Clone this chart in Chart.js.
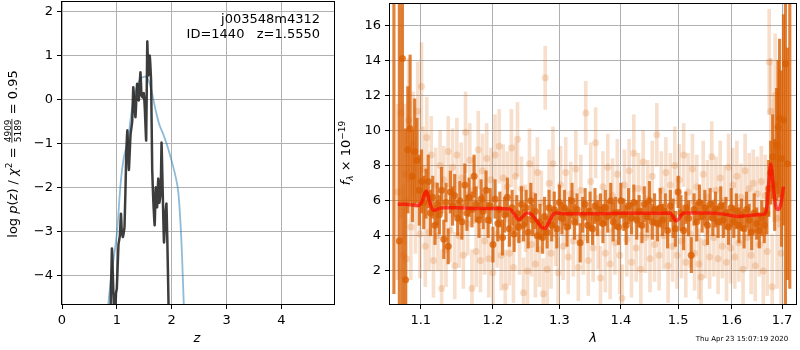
<!DOCTYPE html>
<html>
<head>
<meta charset="utf-8">
<script src="https://cdn.jsdelivr.net/npm/chart.js@4"></script>
<style>
  html, body { margin: 0; padding: 0; background: #fff; }
  #wrap { position: relative; width: 800px; height: 350px; }
  canvas { position: absolute; left: 0; top: 0; }
</style>
</head>
<body>
<div id="wrap">
  <canvas id="pz" width="800" height="350"></canvas>
  <canvas id="spec" width="800" height="350"></canvas>
</div>
<script>
// ---- left panel: log p(z) ----
const zDark = [0.875, 0.91, 0.935, 0.96, 0.985, 1.00, 1.03, 1.055, 1.075, 1.09,
  1.11, 1.14, 1.17, 1.19, 1.21, 1.22, 1.25, 1.28, 1.30, 1.32,
  1.34, 1.37, 1.40, 1.43, 1.45, 1.47, 1.49, 1.51, 1.535, 1.555,
  1.575, 1.60, 1.625, 1.645, 1.665, 1.69, 1.71, 1.735, 1.755, 1.775,
  1.80, 1.815, 1.835, 1.86, 1.885, 1.905, 1.93, 1.955];
const logpDark = [-5.5, -3.39, -4.3, -5.2, -4.4, -4.3, -3.3, -3.1, -2.6, -3.0,
  -3.13, -2.9, -1.35, -0.7, -1.3, -1.6, -0.8, -0.5, 0.28, -0.1,
  -0.4, 0.36, -0.02, 0.62, 0.1, 0.05, 0.15, -0.2, -0.93, 1.32,
  0.55, 1.0, 0.4, -1.6, -2.3, -2.86, -2.0, -2.45, -1.8, -2.35,
  -2.1, -0.98, -2.0, -3.25, -2.6, -2.37, -3.8, -5.5];
const zBlue = [0.80, 0.90, 1.00, 1.07, 1.13, 1.20, 1.25, 1.30, 1.35, 1.42,
  1.50, 1.55, 1.60, 1.65, 1.70, 1.77, 1.85, 1.92, 2.00, 2.08,
  2.12, 2.16, 2.19, 2.23];
const logpBlue = [-5.2, -4.0, -3.05, -1.9, -1.3, -0.95, -0.45, -0.05, 0.22, 0.45,
  0.52, 0.5, 0.36, 0.1, -0.2, -0.55, -0.8, -1.05, -1.4, -1.8,
  -2.1, -2.8, -3.6, -5.0];
const zTicks = [0, 1, 2, 3, 4];
const logpTicks = [-4, -3, -2, -1, 0, 1, 2];

// ---- right panel: spectrum ----
const lamRaw = [1.070,1.074,1.077,1.079,1.081,1.084,1.087,1.090,1.093,1.096,
  1.099,1.101,1.103,1.106,1.108,1.111,1.114,1.117,1.120,1.123,
  1.126,1.128,1.131,1.134,1.137,1.140,1.143,1.146,1.149,1.152,
  1.155,1.158,1.161,1.164,1.167,1.170,1.173,1.176,1.179,1.182,
  1.185,1.188,1.191,1.194,1.197,1.200,1.203,1.206,1.209,1.212,
  1.215,1.218,1.221,1.224,1.227,1.230,1.233,1.236,1.239,1.242,
  1.245,1.248,1.251,1.254,1.257,1.260,1.263,1.266,1.269,1.272,
  1.275,1.278,1.281,1.284,1.287,1.290,1.294,1.298,1.302,1.306,
  1.310,1.314,1.318,1.322,1.326,1.330,1.334,1.338,1.342,1.346,
  1.350,1.354,1.358,1.362,1.366,1.370,1.374,1.378,1.382,1.386,
  1.390,1.394,1.398,1.402,1.406,1.410,1.414,1.418,1.422,1.426,
  1.430,1.434,1.438,1.442,1.446,1.450,1.454,1.458,1.462,1.466,
  1.470,1.474,1.478,1.482,1.486,1.490,1.494,1.498,1.502,1.506,
  1.510,1.514,1.518,1.522,1.526,1.530,1.534,1.538,1.542,1.546,
  1.550,1.554,1.558,1.562,1.566,1.570,1.574,1.578,1.582,1.586,
  1.590,1.594,1.598,1.602,1.606,1.610,1.614,1.618,1.622,1.626,
  1.630,1.634,1.638,1.642,1.646,1.650,1.654,1.658,1.662,1.666,
  1.670,1.674,1.677,1.680,1.683,1.686,1.690,1.694,1.698];
const fluxRaw = [6.5,11.0,2.9,7.5,2.7,10.6,4.5,9.2,5.8,11.1,
  4.1,12.5,7.8,3.4,9.6,4.2,8.6,2.6,6.9,4.0,
  8.0,1.0,7.2,3.2,8.8,4.3,7.9,2.3,8.6,4.0,
  7.3,2.9,9.9,4.7,8.3,1.0,6.6,3.1,8.9,2.6,
  7.7,3.7,8.4,2.7,7.2,1.9,8.6,4.1,9.1,2.9,
  7.3,1.1,6.8,3.0,9.0,2.2,7.4,9.5,3.8,6.7,
  0.75,5.0,2.0,8.1,3.5,6.3,2.4,7.6,3.2,5.9,
  0.7,13.0,2.1,7.0,3.0,8.1,4.1,1.9,6.9,3.4,
  7.6,2.8,6.4,3.7,7.8,2.2,6.6,3.9,11.0,2.6,
  7.1,3.3,9.3,4.2,1.6,6.8,3.0,7.9,2.4,6.3,
  3.6,7.5,2.9,0.45,6.9,3.8,7.7,2.5,8.7,3.3,
  6.7,2.1,8.2,3.9,6.1,2.7,7.4,3.5,9.75,2.9,
  6.6,4.0,7.6,2.3,6.9,3.4,8.0,2.9,7.2,3.7,
  8.6,2.5,6.5,4.1,7.8,3.0,6.8,2.4,1.65,7.5,
  3.6,6.2,2.8,8.5,3.9,6.6,2.7,7.3,3.4,6.0,
  2.5,7.9,3.3,6.9,2.8,7.4,3.6,6.2,2.1,7.7,
  3.9,6.7,2.9,7.0,2.3,6.4,3.5,7.1,2.0,6.3,
  3.1,13.9,11.1,1.1,8.3,12.0,5.0,9.0,3.0];
const errRaw = [5.0,6.0,4.0,4.0,3.5,3.5,3.0,3.0,2.8,2.8,
  2.5,2.5,2.4,2.3,2.3,2.2,2.2,2.1,2.1,2.0,
  2.0,2.2,1.9,2.1,2.0,1.8,2.2,1.9,2.1,1.8,
  2.0,1.9,2.3,1.8,2.1,2.2,1.9,2.0,2.2,1.8,
  2.1,1.9,2.0,2.2,1.8,2.0,2.3,1.9,2.1,2.0,
  1.9,2.1,2.0,1.8,2.2,2.0,1.9,2.1,2.0,1.8,
  2.0,1.9,2.1,2.0,1.8,2.2,1.9,2.0,2.1,1.8,
  2.0,1.8,2.2,1.9,2.0,2.1,1.8,2.0,2.2,1.9,
  2.0,2.1,1.8,2.0,2.2,1.9,2.0,2.1,1.8,2.0,
  2.2,1.9,2.0,2.1,1.8,2.0,2.2,1.9,2.0,2.1,
  1.8,2.0,2.2,1.9,2.0,2.1,1.8,2.0,2.2,1.9,
  2.0,2.1,1.8,2.0,2.2,1.9,2.0,2.1,1.8,2.0,
  2.2,1.9,2.0,2.1,1.8,2.0,2.2,1.9,2.0,2.1,
  1.8,2.0,2.2,1.9,2.0,2.1,1.8,2.0,2.2,1.9,
  2.0,2.1,1.8,2.0,2.2,1.9,2.0,2.1,1.8,2.0,
  2.2,1.9,2.0,2.1,1.8,2.0,2.2,1.9,2.0,2.1,
  1.8,2.0,2.2,1.9,2.0,2.1,1.8,2.0,2.2,2.3,
  2.5,3.0,3.0,3.0,3.5,3.5,4.0,4.5,5.0];

const lamBin = [1.065,1.072,1.076,1.080,1.083,1.086,1.089,1.092,1.095,1.098,
  1.101,1.104,1.107,1.110,1.113,1.116,1.119,1.122,1.125,1.128,
  1.131,1.134,1.137,1.140,1.143,1.146,1.150,1.153,1.156,1.160,
  1.163,1.166,1.170,1.173,1.176,1.180,1.183,1.186,1.190,1.193,
  1.196,1.200,1.203,1.207,1.210,1.214,1.217,1.221,1.224,1.228,
  1.231,1.235,1.238,1.242,1.245,1.249,1.252,1.256,1.259,1.263,
  1.266,1.270,1.274,1.277,1.281,1.284,1.288,1.292,1.296,1.300,
  1.304,1.308,1.312,1.316,1.320,1.324,1.328,1.333,1.337,1.341,
  1.345,1.349,1.353,1.357,1.361,1.366,1.370,1.374,1.378,1.383,
  1.387,1.391,1.396,1.400,1.405,1.409,1.413,1.418,1.422,1.427,
  1.431,1.436,1.440,1.445,1.449,1.454,1.458,1.463,1.468,1.472,
  1.477,1.481,1.486,1.491,1.495,1.500,1.505,1.510,1.514,1.519,
  1.524,1.529,1.534,1.539,1.544,1.549,1.554,1.559,1.564,1.569,
  1.574,1.579,1.584,1.589,1.594,1.599,1.604,1.609,1.614,1.619,
  1.624,1.629,1.634,1.639,1.644,1.649,1.654,1.659,1.664,1.669,
  1.673,1.677,1.681,1.685,1.689,1.692,1.695,1.699,1.703,1.707,
  1.711,1.716];
const fluxBin = [18.5,3.7,14.1,1.5,8.9,10.1,7.4,8.8,8.3,6.6,
  7.1,5.9,6.4,7.1,5.3,6.2,4.6,5.8,5.2,6.6,
  3.8,5.9,3.4,6.5,5.7,6.3,5.0,6.0,4.8,6.9,
  5.3,6.2,5.5,7.4,5.8,4.9,6.1,5.4,6.6,4.9,
  5.7,3.5,6.1,4.7,5.5,3.9,5.2,6.2,4.4,5.6,
  4.1,5.3,4.5,5.8,4.6,5.6,4.2,6.0,4.9,5.4,
  4.0,4.8,3.9,5.1,4.2,5.6,4.6,5.5,4.4,5.9,
  5.0,5.6,4.5,5.3,6.0,4.8,5.5,3.6,5.2,5.8,
  4.6,5.4,4.4,5.7,5.0,5.5,4.7,5.6,5.1,6.0,
  4.8,5.3,4.5,6.0,5.2,4.6,5.7,5.0,5.9,4.9,
  5.4,4.6,5.8,5.1,6.0,4.8,5.5,4.7,5.6,4.9,
  5.4,4.3,5.7,5.0,4.4,6.5,5.3,4.3,5.6,5.0,
  2.9,5.5,4.8,5.9,5.1,5.6,4.6,5.8,5.0,5.5,
  4.8,5.7,4.9,5.3,4.5,5.6,4.8,5.4,4.6,5.2,
  4.4,5.5,4.9,4.2,5.3,4.7,4.3,5.0,4.6,5.3,
  6.7,7.6,8.5,6.9,9.2,10.2,10.7,8.4,10.6,13.8,
  8.1,18.0];
const errBin = [17.8,14.0,14.0,8.6,3.6,4.2,2.6,3.0,2.4,2.0,
  1.8,1.5,1.4,1.5,1.3,1.2,1.1,1.2,1.1,1.3,
  1.1,1.1,1.0,1.2,1.1,1.2,1.0,1.1,1.0,1.2,
  1.0,1.1,1.0,1.2,1.0,1.0,1.1,1.0,1.1,1.0,
  1.0,1.0,1.1,1.0,1.0,1.0,1.0,1.1,1.0,1.0,
  1.0,1.0,0.9,1.0,0.9,1.0,0.9,1.0,0.9,1.0,
  0.9,1.0,0.9,1.1,0.9,1.0,0.9,1.0,1.1,1.0,
  0.9,1.0,1.1,0.9,1.0,1.0,0.9,1.1,1.0,0.9,
  1.0,1.1,0.9,1.0,1.0,0.9,1.1,1.0,0.9,1.0,
  1.1,0.9,1.0,1.0,0.9,1.1,1.0,0.9,1.0,1.1,
  0.9,1.0,1.0,0.9,1.1,1.0,0.9,1.0,1.1,0.9,
  1.0,1.0,0.9,1.1,1.0,0.9,1.0,1.1,0.9,1.0,
  1.0,0.9,1.1,1.0,0.9,1.0,1.1,0.9,1.0,1.0,
  0.9,1.1,1.0,0.9,1.0,1.1,0.9,1.0,1.0,0.9,
  1.1,1.0,0.9,1.0,1.1,0.9,1.0,1.0,1.0,1.2,
  1.6,1.8,2.4,2.6,3.2,3.8,4.5,5.0,6.0,14.0,
  6.6,17.0];

const lamModel = [1.070,1.080,1.090,1.096,1.101,1.1075,1.112,1.117,1.122,1.130,
  1.150,1.180,1.210,1.224,1.232,1.238,1.244,1.250,1.258,1.266,
  1.272,1.278,1.284,1.290,1.296,1.310,1.350,1.400,1.450,1.485,
  1.490,1.4955,1.501,1.506,1.512,1.550,1.580,1.600,1.612,1.630,
  1.650,1.665,1.669,1.673,1.677,1.681,1.685,1.689,1.693,1.697,
  1.700,1.703];
const fluxModel = [5.8,5.8,5.75,5.72,5.9,6.55,5.9,5.45,5.5,5.6,
  5.6,5.55,5.55,5.53,5.2,4.92,5.1,5.3,5.2,4.8,
  4.5,4.43,4.8,5.2,5.3,5.25,5.25,5.28,5.28,5.3,
  5.15,4.85,4.95,5.2,5.3,5.3,5.25,5.15,5.1,5.15,
  5.2,5.25,5.6,7.0,8.08,7.2,6.1,5.55,5.5,5.75,
  6.2,6.8];
const lamTicks = [1.1, 1.2, 1.3, 1.4, 1.5, 1.6, 1.7];
const fluxTicks = [2, 4, 6, 8, 10, 12, 14, 16];

Chart.defaults.color = '#000';
Chart.defaults.font.family = '"DejaVu Sans", sans-serif';
Chart.defaults.font.size = 13;

const FONT = '"DejaVu Sans"';
const minus = (v) => String(v).replace('-', '\u2212');

// draws a row of text pieces, centred at (cx, cy), optionally rotated
function drawRich(ctx, parts, cx, cy, rot) {
  ctx.save();
  ctx.translate(cx, cy);
  ctx.rotate(rot || 0);
  ctx.fillStyle = '#000';
  ctx.textBaseline = 'alphabetic';
  ctx.textAlign = 'left';
  const widths = parts.map((p) => {
    ctx.font = p.font;
    if (p.num) {
      return Math.max(ctx.measureText(p.num).width, ctx.measureText(p.den).width) + 2;
    }
    return ctx.measureText(p.t).width;
  });
  let x = -widths.reduce((a, b) => a + b, 0) / 2;
  const base = 4.5;
  parts.forEach((p, i) => {
    ctx.font = p.font;
    if (p.num) {
      const w = widths[i];
      ctx.textAlign = 'center';
      ctx.fillText(p.num, x + w / 2, base - 6);
      ctx.fillText(p.den, x + w / 2, base + 4);
      ctx.fillRect(x + 0.5, base - 5, w - 1, 0.8);
      ctx.textAlign = 'left';
    } else {
      ctx.fillText(p.t, x, base + (p.dy || 0));
    }
    x += widths[i];
  });
  ctx.restore();
}

const frame = {
  id: 'frame',
  afterDraw(chart) {
    const { ctx, chartArea: a } = chart;
    ctx.save();
    ctx.strokeStyle = '#000';
    ctx.lineWidth = 1;
    ctx.strokeRect(Math.round(a.left) - 0.5, Math.round(a.top) - 0.5,
      Math.round(a.right - a.left) + 1, Math.round(a.bottom - a.top) + 1);
    ctx.restore();
  },
};

const N = `13px ${FONT}`;
const I = `italic 13px ${FONT}`;
const S = `9px ${FONT}`;
const SI = `italic 9px ${FONT}`;

const pzLabels = {
  id: 'pzLabels',
  afterDraw(chart) {
    const { ctx } = chart;
    drawRich(ctx, [
      { t: 'log ', font: N }, { t: 'p', font: I }, { t: '(', font: N }, { t: 'z', font: I },
      { t: ') / ', font: N }, { t: '\u03c7', font: I }, { t: '2', font: S, dy: -5 },
      { t: ' = ', font: N }, { num: '4909', den: '5189', font: S }, { t: ' = 0.95', font: N },
    ], 12, 154, -Math.PI / 2);
    drawRich(ctx, [{ t: 'z', font: I }], 197, 337, 0);
    ctx.save();
    ctx.font = N;
    ctx.textAlign = 'right';
    ctx.textBaseline = 'middle';
    ctx.fillText('j003548m4312', 320, 20);
    ctx.fillText('ID=1440   z=1.5550', 320, 35);
    ctx.restore();
  },
};

const specLabels = {
  id: 'specLabels',
  afterDraw(chart) {
    const { ctx } = chart;
    drawRich(ctx, [
      { t: 'f', font: I }, { t: '\u03bb', font: SI, dy: 3 }, { t: ' \u00d7 10', font: N },
      { t: '\u221219', font: S, dy: -5 },
    ], 345, 153, -Math.PI / 2);
    drawRich(ctx, [{ t: '\u03bb', font: I }], 593, 337, 0);
    ctx.save();
    ctx.font = `7px ${FONT}`;
    ctx.textAlign = 'center';
    ctx.textBaseline = 'middle';
    ctx.fillText('Thu Apr 23 15:07:19 2020', 742, 339);
    ctx.restore();
  },
};

// fix the axis box and drop the label overhang padding, so the plot area lands exactly
const fitBox = (w, h) => (s) => {
  if (w !== null) s.width = w;
  if (h !== null) s.height = h;
  s.paddingTop = 0;
  s.paddingBottom = 0;
  s.paddingLeft = 0;
  s.paddingRight = 0;
};

const gridOpts = { color: '#b0b0b0', lineWidth: 1, tickColor: '#000', tickLength: 5, tickWidth: 1 };

new Chart(document.getElementById('pz'), {
  type: 'line',
  data: {
    datasets: [
      {
        data: zDark.map((z, i) => ({ x: z, y: logpDark[i] })),
        borderColor: 'rgba(40,40,40,0.9)',
        borderWidth: 2.5,
        pointRadius: 0,
        tension: 0.15,
      },
      {
        data: zBlue.map((z, i) => ({ x: z, y: logpBlue[i] })),
        borderColor: 'rgba(31,119,180,0.5)',
        borderWidth: 1.8,
        pointRadius: 0,
        tension: 0.4,
      },
    ],
  },
  plugins: [frame, pzLabels],
  options: {
    responsive: false,
    animation: false,
    layout: { padding: { left: 0, top: 2, right: 466, bottom: 0 } },
    plugins: { legend: { display: false }, tooltip: { enabled: false } },
    scales: {
      x: {
        type: 'linear',
        min: 0,
        max: 4.96,
        afterBuildTicks: (s) => { s.ticks = zTicks.map((v) => ({ value: v })); },
        afterFit: fitBox(null, 46),
        ticks: { padding: 4, autoSkip: false, maxRotation: 0 },
        grid: gridOpts,
        border: { display: false },
      },
      y: {
        type: 'linear',
        min: -4.653,
        max: 2.22,
        afterBuildTicks: (s) => { s.ticks = logpTicks.map((v) => ({ value: v })); },
        afterFit: fitBox(62, null),
        ticks: { padding: 4, callback: (v) => minus(v) },
        grid: gridOpts,
        border: { display: false },
      },
    },
  },
});

const ORANGE_LIGHT = 'rgba(217,95,2,0.2)';
const ORANGE_DARK = 'rgba(217,95,2,0.78)';

new Chart(document.getElementById('spec'), {
  type: 'bar',
  data: {
    datasets: [
      {
        type: 'line',
        data: lamModel.map((x, i) => ({ x, y: fluxModel[i] })),
        borderColor: 'rgba(255,0,0,0.65)',
        borderWidth: 3.5,
        pointRadius: 0,
        cubicInterpolationMode: 'monotone',
        order: 0,
      },
      {
        type: 'scatter',
        data: lamBin.map((x, i) => ({ x, y: fluxBin[i] })),
        backgroundColor: ORANGE_DARK,
        borderWidth: 0,
        pointRadius: 3.5,
        order: 1,
      },
      {
        type: 'bar',
        data: lamBin.map((x, i) => ({ x, y: [fluxBin[i] - errBin[i], fluxBin[i] + errBin[i]] })),
        backgroundColor: ORANGE_DARK,
        borderWidth: 0,
        barThickness: 2.5,
        grouped: false,
        order: 2,
      },
      {
        type: 'scatter',
        data: lamRaw.map((x, i) => ({ x, y: fluxRaw[i] })),
        backgroundColor: ORANGE_LIGHT,
        borderWidth: 0,
        pointRadius: 3.5,
        order: 3,
      },
      {
        type: 'bar',
        data: lamRaw.map((x, i) => ({ x, y: [fluxRaw[i] - errRaw[i], fluxRaw[i] + errRaw[i]] })),
        backgroundColor: ORANGE_LIGHT,
        borderWidth: 0,
        barThickness: 3,
        grouped: false,
        order: 4,
      },
    ],
  },
  plugins: [frame, specLabels],
  options: {
    responsive: false,
    animation: false,
    layout: { padding: { left: 328, top: 2, right: 1, bottom: 0 } },
    plugins: { legend: { display: false }, tooltip: { enabled: false } },
    scales: {
      x: {
        type: 'logarithmic',
        min: 1.060,
        max: 1.7289,
        offset: false,
        z: 1,
        afterBuildTicks: (s) => { s.ticks = lamTicks.map((v) => ({ value: v })); },
        afterFit: fitBox(null, 46),
        ticks: { padding: 4, autoSkip: false, maxRotation: 0, callback: (v) => Number(v).toFixed(1) },
        grid: { ...gridOpts, offset: false },
        border: { display: false },
      },
      y: {
        type: 'linear',
        min: 0.116,
        max: 17.205,
        z: 1,
        afterBuildTicks: (s) => { s.ticks = fluxTicks.map((v) => ({ value: v })); },
        afterFit: fitBox(62, null),
        ticks: { padding: 4 },
        grid: gridOpts,
        border: { display: false },
      },
    },
  },
});
</script>
</body>
</html>
